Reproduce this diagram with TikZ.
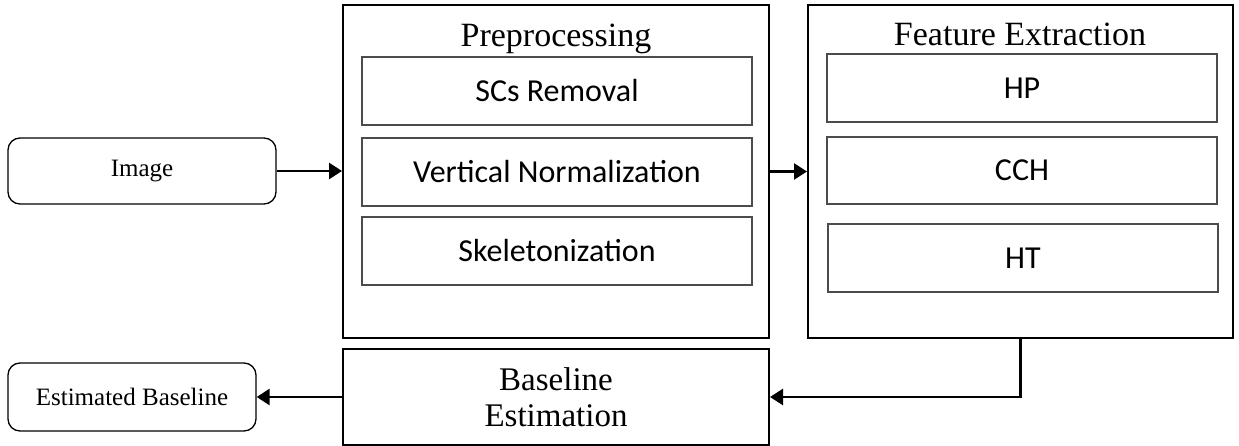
\documentclass[tikz,border=0pt]{standalone}
\usepackage{fontspec}
\setmainfont{Liberation Serif}
\newfontfamily\calibrifont{Carlito}
\usetikzlibrary{arrows.meta}
\tikzset{
  outerbox/.style={draw=black, line width=2pt, rectangle, inner sep=0pt},
  innerbox/.style={draw=black!70, line width=1.2pt, rectangle, inner sep=0pt, minimum width=390pt, minimum height=68pt, font=\calibrifont\fontsize{32}{36}\selectfont},
  roundbox/.style={draw=black, line width=1.3pt, rectangle, rounded corners=12pt, inner sep=0pt, font=\fontsize{25}{30}\selectfont},
  titletext/.style={inner sep=0pt, font=\fontsize{34}{38}\selectfont},
  conn/.style={line width=2.6pt, -{Triangle[length=13pt,width=16pt]}}
}
\begin{document}
\begin{tikzpicture}[x=1pt,y=-1pt]
\useasboundingbox (0,0) rectangle (1239,446);
% left input
\node[roundbox, minimum width=268pt, minimum height=66pt] (img) at (142,171) {Image};
% preprocessing
\node[outerbox, minimum width=426pt, minimum height=333pt] (pre) at (556,171.5) {};
\node[titletext, anchor=base] (pretitle) at (556,47) {Preprocessing};
\node[innerbox] (scs) at (557,91) {SCs Removal};
\node[innerbox] (vn) at (557,172) {Vertical Normalization};
\node[innerbox] (sk) at (557,251) {Skeletonization};
% feature extraction
\node[outerbox, minimum width=425pt, minimum height=333pt] (fe) at (1020.5,171.5) {};
\node[titletext, anchor=base] (fetitle) at (1020,46) {Feature Extraction};
\node[innerbox] (hp) at (1022,88) {HP};
\node[innerbox, minimum height=67pt] (cch) at (1022,170.5) {CCH};
\node[innerbox] (ht) at (1023,258) {HT};
% baseline estimation
\node[outerbox, minimum width=426pt, minimum height=96pt, align=center, font=\fontsize{33}{36}\selectfont] (base) at (556,397) {Baseline\\Estimation};
\node[roundbox, minimum width=248pt, minimum height=68pt] (est) at (132,397) {Estimated Baseline};
% connectors
\draw[conn] (img.east) -- (img.east -| pre.west);
\draw[conn] (pre.east) -- (fe.west);
\draw[conn] (fe.south) |- (base.east);
\draw[conn] (base.west) -- (est.east);
\end{tikzpicture}
\end{document}
